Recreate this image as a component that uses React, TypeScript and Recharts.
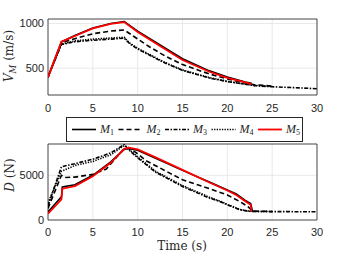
import React from 'react';
import { LineChart, Line, XAxis, YAxis, CartesianGrid, ReferenceArea, Label } from 'recharts';

// ---- axis ticks ----
const xTicks = [0, 5, 10, 15, 20, 25, 30];
const vTicks = [500, 1000];
const dTicks = [0, 5000];
const seriesNames = ['1', '2', '3', '4', '5'];

// ---- V_M (m/s) ----
const tV1 = [0, 1.5, 3, 5, 7, 8.5, 10, 12, 15, 18, 20, 22, 22.7];
const vM1 = [400, 795, 865, 950, 1000, 1022, 915, 790, 605, 470, 402, 345, 330];
const tV2 = [0, 1.5, 3, 5, 7, 8.5, 9.5, 11.3, 13, 15, 18, 20, 22, 23, 25];
const vM2 = [400, 785, 830, 885, 915, 928, 860, 740, 640, 540, 435, 380, 335, 315, 300];
const tV3 = [0, 1.5, 3, 5, 7, 8.5, 9.1, 10, 12, 13, 15, 18, 20, 22, 23, 25, 28, 30];
const vM3 = [400, 765, 795, 812, 825, 835, 775, 715, 610, 560, 475, 390, 350, 320, 305, 292, 280, 270];
const tV4 = [0, 1.5, 3, 5, 7, 8.5, 9.1, 10, 12, 13, 15, 18, 20, 22, 23, 25];
const vM4 = [400, 770, 805, 825, 838, 845, 782, 722, 618, 566, 480, 395, 353, 322, 308, 295];
const tV5 = [0, 1.5, 3, 5, 7, 8.5, 10, 12, 15, 18, 20, 22, 22.7];
const vM5 = [400, 795, 860, 945, 995, 1015, 905, 778, 592, 460, 392, 340, 322];

// ---- D (N) ----
const tD1 = [0, 1.5, 1.6, 3, 5, 7, 8.5, 9, 10, 12, 15, 18, 20, 21, 22, 22.6, 22.8];
const dM1 = [900, 2600, 3700, 3950, 5000, 6500, 7900, 8000, 7800, 6900, 5550, 4250, 3350, 2900, 2200, 1850, 1000];
const tD2 = [0, 1.5, 2, 3, 5, 6.5, 8.5, 9, 10, 11, 15, 18, 20, 21.5, 22.3, 22.8, 25];
const dM2 = [1300, 5000, 4750, 4800, 5100, 5700, 8000, 8100, 7400, 6600, 4500, 3500, 2800, 2000, 1500, 1000, 950];
const tD3 = [0, 1.5, 3, 5, 7, 8.5, 9, 10, 12, 15, 18, 19.2, 20, 21.4, 22.2, 23, 25, 30];
const dM3 = [1600, 5950, 6300, 6800, 7500, 8450, 7850, 6950, 5350, 3750, 2450, 2050, 1700, 1150, 1000, 950, 940, 920];
const tD4 = [0, 1.5, 3, 5, 7, 8.5, 9, 10, 12, 15, 18, 19.2, 20, 21.4, 22.2, 23, 25];
const dM4 = [1900, 5450, 6100, 6550, 7300, 8350, 7950, 7050, 5450, 3850, 2550, 2100, 1750, 1180, 1020, 960, 945];
const tD5 = [0, 1.5, 1.6, 3, 5, 7, 8.5, 9, 10, 12, 15, 18, 20, 21, 22, 22.6, 22.7];
const dM5 = [700, 2300, 3500, 3800, 4900, 6400, 7950, 8100, 7900, 7000, 5600, 4200, 3300, 2800, 2100, 1700, 950];

const zip = (t: number[], y: number[]) => t.map((x, i) => ({ t: x, y: y[i] }));

const vSeries = [zip(tV1, vM1), zip(tV2, vM2), zip(tV3, vM3), zip(tV4, vM4), zip(tV5, vM5)];
const dSeries = [zip(tD1, dM1), zip(tD2, dM2), zip(tD3, dM3), zip(tD4, dM4), zip(tD5, dM5)];

const styles = [
  { stroke: '#000', dash: undefined, w: 1.6 },
  { stroke: '#000', dash: '5 3', w: 1.6 },
  { stroke: '#000', dash: '4 1.5 1.5 1.5', w: 1.6 },
  { stroke: '#000', dash: '1.3 1.3', w: 1.6 },
  { stroke: '#ff0000', dash: undefined, w: 1.8 },
];

const AX = '#262626';
const tickStyle = { fontFamily: 'Liberation Sans, Arial, sans-serif', fontSize: 11, fill: AX };
const serif = 'DejaVu Serif, serif';
const legendSerif = 'Liberation Serif, serif';

const renderLines = (series: { t: number; y: number }[][]) =>
  series.map((d, i) => (
    <Line
      key={i}
      data={d}
      dataKey="y"
      type="linear"
      dot={false}
      activeDot={false}
      stroke={styles[i].stroke}
      strokeWidth={styles[i].w}
      strokeDasharray={styles[i].dash}
      isAnimationActive={false}
    />
  ));

export default function App() {
  return (
    <div style={{ position: 'absolute', left: 0, top: 0, width: 350, height: 263, background: '#fff' }}>
      <div style={{ position: 'absolute', left: 0, top: 0 }}>
        <LineChart width={350} height={125} margin={{ top: 19, right: 33, bottom: 10, left: 0 }}>
          <CartesianGrid stroke="#e3e3e3" strokeWidth={0.8} />
          <XAxis
            dataKey="t"
            type="number"
            domain={[0, 30]}
            ticks={xTicks}
            allowDataOverflow
            height={20}
            tickLine={false}
            axisLine={false}
            tickSize={0}
            tickMargin={9}
            tick={tickStyle}
          />
          <YAxis
            type="number"
            domain={[200, 1050]}
            ticks={vTicks}
            allowDataOverflow
            width={48}
            tickLine={false}
            axisLine={false}
            tickSize={0}
            tickMargin={4}
            tick={tickStyle}
          >
            <Label
              content={() => (
                <text transform="translate(13,56) rotate(-90)" textAnchor="middle" fontFamily={serif} fontSize={12} fill={AX}>
                  <tspan fontStyle="italic">V</tspan>
                  <tspan fontStyle="italic" fontSize={8.5} dy={3}>M</tspan>
                  <tspan dy={-3}> (m/s)</tspan>
                </text>
              )}
            />
          </YAxis>
          <ReferenceArea x1={0} x2={30} y1={200} y2={1050} fill="none" stroke={AX} strokeWidth={0.8} />
          {renderLines(vSeries)}
        </LineChart>
      </div>
      <div style={{ position: 'absolute', left: 0, top: 125 }}>
        <LineChart width={350} height={138} margin={{ top: 19, right: 33, bottom: 23, left: 0 }}>
          <CartesianGrid stroke="#e3e3e3" strokeWidth={0.8} />
          <XAxis
            dataKey="t"
            type="number"
            domain={[0, 30]}
            ticks={xTicks}
            allowDataOverflow
            height={20}
            tickLine={false}
            axisLine={false}
            tickSize={0}
            tickMargin={8}
            tick={tickStyle}
          >
            <Label
              content={() => (
                <text x={182} y={125} textAnchor="middle" fontFamily={serif} fontSize={12} fill={AX}>
                  Time (s)
                </text>
              )}
            />
          </XAxis>
          <YAxis
            type="number"
            domain={[0, 8500]}
            ticks={dTicks}
            allowDataOverflow
            width={48}
            tickLine={false}
            axisLine={false}
            tickSize={0}
            tickMargin={4}
            tick={tickStyle}
          >
            <Label
              content={() => (
                <text transform="translate(14,50) rotate(-90)" textAnchor="middle" fontFamily={serif} fontSize={12} fill={AX}>
                  <tspan fontStyle="italic">D</tspan>
                  <tspan> (N)</tspan>
                </text>
              )}
            />
          </YAxis>
          <ReferenceArea x1={0} x2={30} y1={0} y2={8500} fill="none" stroke={AX} strokeWidth={0.8} />
          {renderLines(dSeries)}
        </LineChart>
      </div>
      <div
        style={{
          position: 'absolute',
          left: 66,
          top: 117,
          width: 237,
          height: 25,
          boxSizing: 'border-box',
          border: '1px solid #262626',
          background: '#fff',
        }}
      >
        <svg width={235} height={23} style={{ display: 'block', overflow: 'visible' }}>
          {seriesNames.map((n, i) => {
            const x0 = 5 + i * 46.5;
            return (
              <g key={n}>
                <line
                  x1={x0}
                  x2={x0 + 24}
                  y1={11.5}
                  y2={11.5}
                  stroke={styles[i].stroke}
                  strokeWidth={styles[i].w}
                  strokeDasharray={styles[i].dash}
                />
                <text x={x0 + 28} y={15} fontFamily={legendSerif} fontSize={12} fill={AX}>
                  <tspan fontStyle="italic">M</tspan>
                  <tspan fontSize={8} dy={2}>{n}</tspan>
                </text>
              </g>
            );
          })}
        </svg>
      </div>
    </div>
  );
}
